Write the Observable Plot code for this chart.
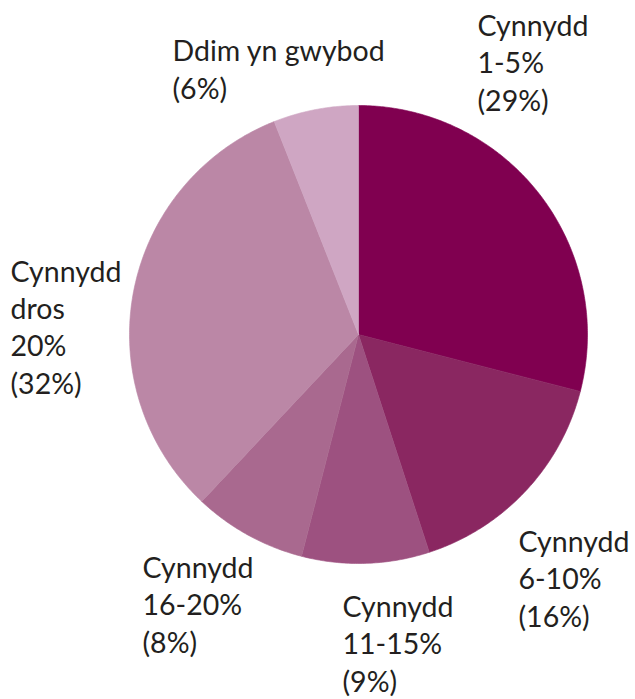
<!DOCTYPE html>
<html>
<head>
<meta charset="utf-8">
<script src="https://cdn.jsdelivr.net/npm/d3@7"></script>
<script src="https://cdn.jsdelivr.net/npm/@observablehq/plot@0.6"></script>
<style>
  html, body { margin: 0; padding: 0; background: #fff; }
  #chart svg { display: block; }
</style>
</head>
<body>
<div id="chart"></div>
<script>
// Data
const categories = ["Cynnydd\n1-5%", "Cynnydd\n6-10%", "Cynnydd\n11-15%", "Cynnydd\n16-20%", "Cynnydd\ndros\n20%", "Ddim yn gwybod"];
const values = [29, 16, 9, 8, 32, 6];
const colors = ["#800050", "#8a2761", "#9d5180", "#a9698f", "#bb87a6", "#cfa6c3"];

// Layout
const W = 635, H = 699;
const cx = 358, cy = 334, R = 229;
// label anchor: x = left edge, y = baseline of last line
const labelPos = [[477, 110], [518, 626], [342, 691], [142, 652], [10, 393], [172, 98]];

const pie = d3.pie().value(d => d.value).sort(null);
const rows = categories.map((c, i) => ({name: c, value: values[i], color: colors[i]}));
const arcs = pie(rows);

// polygon points for each slice
const pts = [];
arcs.forEach((a, i) => {
  const n = Math.max(2, Math.ceil((a.endAngle - a.startAngle) / 0.01));
  pts.push({k: i, x: cx, y: cy, color: colors[i]});
  for (let j = 0; j <= n; j++) {
    const t = a.startAngle + (a.endAngle - a.startAngle) * j / n;
    pts.push({k: i, x: cx + R * Math.sin(t), y: cy - R * Math.cos(t), color: colors[i]});
  }
  pts.push({k: i, x: cx, y: cy, color: colors[i]});
});

const labels = rows.map((r, i) => ({
  text: r.name + "\n(" + r.value + "%)",
  x: labelPos[i][0],
  y: labelPos[i][1]
}));

const chart = Plot.plot({
  width: W,
  height: H,
  margin: 0,
  x: {type: "identity", axis: null},
  y: {type: "identity", axis: null},
  marks: [
    Plot.line(pts, {x: "x", y: "y", z: "k", fill: "color", stroke: "color", strokeWidth: 0.6, curve: "linear"}),
    Plot.text(labels, {
      x: "x", y: "y", text: "text",
      textAnchor: "start", lineAnchor: "bottom", lineHeight: 1.31,
      fontSize: 28.5, fill: "#231f20",
      fontFamily: "Lato, 'Open Sans', sans-serif"
    })
  ]
});
document.getElementById("chart").appendChild(chart);
</script>
</body>
</html>
